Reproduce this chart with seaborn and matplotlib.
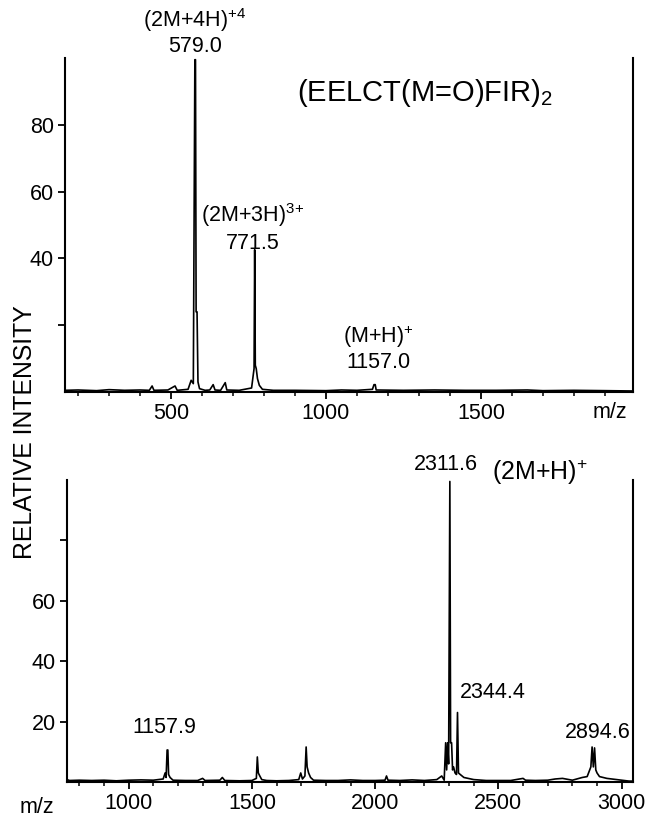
import numpy as np
import pandas as pd
import matplotlib
matplotlib.use("Agg")
import matplotlib.pyplot as plt
import seaborn as sns
from matplotlib.ticker import MultipleLocator, FixedLocator

# spectrum traces (m/z, relative intensity)
top_mz = [158, 200, 260, 300, 350, 400, 430, 439, 445, 490, 513, 520, 555, 565, 572,
          577, 579, 581, 584, 587, 592, 610, 625, 636, 642, 660, 675, 680, 720, 760,
          768, 770, 772, 775, 779, 785, 795, 830, 900, 1000, 1050, 1100, 1150, 1155,
          1159, 1162, 1250, 1350, 1450, 1550, 1650, 1700, 1800, 1900, 1990]
top_int = [0.5, 0.6, 0.4, 0.7, 0.5, 0.6, 0.5, 1.8, 0.5, 0.6, 1.8, 0.5, 0.8, 3.5, 2.5,
           99.5, 99.5, 24, 24, 3, 1, 0.5, 0.6, 2.2, 0.6, 0.5, 2.8, 0.6, 0.5, 1.2,
           7, 42.6, 8, 7, 4, 2, 0.8, 0.5, 0.5, 0.4, 0.6, 0.5, 0.8, 2.2,
           2.2, 0.6, 0.5, 0.6, 0.5, 0.5, 0.6, 0.4, 0.5, 0.4, 0.3]

bot_mz = [750, 760, 800, 850, 900, 950, 1000, 1050, 1100, 1140, 1148, 1152, 1156, 1159,
          1162, 1168, 1180, 1230, 1280, 1300, 1310, 1370, 1380, 1390, 1450, 1500, 1518,
          1522, 1526, 1532, 1540, 1560, 1600, 1650, 1690, 1698, 1705, 1715, 1720, 1724,
          1730, 1738, 1750, 1800, 1850, 1900, 1950, 2000, 2040, 2046, 2052, 2100, 2150,
          2200, 2250, 2270, 2280, 2286, 2290, 2294, 2298, 2303, 2306, 2310, 2314, 2318,
          2324, 2330, 2334, 2338, 2345, 2360, 2400, 2450, 2500, 2550, 2600, 2610, 2650,
          2700, 2730, 2760, 2800, 2840, 2860, 2875, 2880, 2885, 2890, 2895, 2900, 2910,
          2940, 2980, 3030, 3045]
bot_int = [0.8, 0.5, 0.6, 0.5, 0.6, 0.4, 0.6, 0.7, 0.6, 1, 3, 1.5, 10.6, 10.6,
           2.5, 1.5, 0.6, 0.5, 0.5, 1.2, 0.5, 0.6, 1.5, 0.5, 0.4, 0.5, 1.2,
           8.3, 3, 2, 0.8, 0.5, 0.4, 0.5, 0.8, 3, 1, 2, 11.6, 5,
           3, 1.5, 0.6, 0.5, 0.5, 0.7, 0.5, 0.5, 0.6, 2, 0.6, 0.5, 0.7,
           0.5, 0.8, 2, 0.6, 13, 4, 13, 6, 99.5, 13, 13, 4, 5,
           3, 2.5, 23, 3, 2.5, 1.5, 0.8, 0.5, 0.5, 0.5, 1.2, 0.6, 0.5,
           0.6, 1, 1.2, 0.6, 1.5, 1.8, 5, 11.6, 5, 11.3, 4, 3, 1.8,
           1.2, 0.8, 0.3, 0.3]

top = pd.DataFrame({"mz": top_mz, "intensity": top_int})
bot = pd.DataFrame({"mz": bot_mz, "intensity": bot_int})

sns.set_style("ticks")
plt.rcParams["font.family"] = ["Liberation Sans", "DejaVu Sans"]
plt.rcParams["mathtext.fontset"] = "custom"
plt.rcParams["mathtext.rm"] = "Liberation Sans"
plt.rcParams["mathtext.it"] = "Liberation Sans:italic"
for k in ["text.color", "axes.edgecolor", "xtick.color", "ytick.color", "axes.labelcolor"]:
    plt.rcParams[k] = "black"

fig = plt.figure(figsize=(6.47, 8.23), dpi=100)
ax1 = fig.add_axes([0.1005, 0.5237, 0.8775, 0.4058])
ax2 = fig.add_axes([0.1036, 0.0498, 0.8744, 0.367])

fs = 15.5
for ax, df in [(ax1, top), (ax2, bot)]:
    sns.lineplot(data=df, x="mz", y="intensity", ax=ax, color="black",
                 lw=1.2, estimator=None, sort=False)
    ax.set_ylim(0, 100)
    ax.set_xlabel("")
    ax.set_ylabel("")
    ax.spines["top"].set_visible(False)
    for s in ["left", "right", "bottom"]:
        ax.spines[s].set_linewidth(1.5)
    ax.tick_params(axis="both", which="major", direction="out", length=5,
                   width=1.3, labelsize=fs, pad=3, colors="black")
    ax.tick_params(axis="x", which="minor", direction="out", length=3, width=1.1)
    ax.tick_params(axis="y", which="minor", left=False)

# top panel
ax1.set_xlim(158, 1990)
ax1.xaxis.set_major_locator(FixedLocator([500, 1000, 1500]))
ax1.xaxis.set_minor_locator(MultipleLocator(100))
ax1.yaxis.set_major_locator(FixedLocator([20, 40, 60, 80]))
ax1.set_yticklabels(["", "40", "60", "80"])

ax1.text(577, 111.5, r"(2M+4H)$\mathregular{^{+4}}$", ha="center", va="center",
         fontsize=fs, clip_on=False)
ax1.text(577, 103.5, "579.0", ha="center", va="center", fontsize=fs, clip_on=False)
ax1.text(906, 89.5, r"(EELCT(M=O)FIR)$\mathregular{_2}$", ha="left", va="center",
         fontsize=21)
ax1.text(765, 53, r"(2M+3H)$\mathregular{^{3}}$$\mathregular{^{+}}$", ha="center",
         va="center", fontsize=fs)
ax1.text(765, 44.6, "771.5", ha="center", va="center", fontsize=fs)
ax1.text(1168, 16.5, r"(M+H)$\mathregular{^{+}}$", ha="center", va="center", fontsize=fs)
ax1.text(1168, 8.8, "1157.0", ha="center", va="center", fontsize=fs)
ax1.text(1916, -6, "m/z", ha="center", va="center", fontsize=fs, clip_on=False)

# bottom panel
ax2.set_xlim(750, 3045)
ax2.xaxis.set_major_locator(FixedLocator([1000, 1500, 2000, 2500, 3000]))
ax2.xaxis.set_minor_locator(MultipleLocator(100))
ax2.yaxis.set_major_locator(FixedLocator([20, 40, 60, 80]))
ax2.set_yticklabels(["20", "40", "60", ""])

ax2.text(2285, 105, "2311.6", ha="center", va="center", fontsize=fs, clip_on=False)
ax2.text(2667, 102.5, r"(2M+H)$\mathregular{^{+}}$", ha="center", va="center",
         fontsize=18, clip_on=False)
ax2.text(2477, 29.5, "2344.4", ha="center", va="center", fontsize=fs)
ax2.text(2903, 16.5, "2894.6", ha="center", va="center", fontsize=fs)
ax2.text(1146, 17.9, "1157.9", ha="center", va="center", fontsize=fs)
ax2.text(627, -8.6, "m/z", ha="center", va="center", fontsize=fs, clip_on=False)

fig.text(0.039, 0.475, "RELATIVE INTENSITY", rotation=90, ha="center", va="center",
         fontsize=17.8)

fig.savefig("out.png", dpi=100, facecolor="white")
